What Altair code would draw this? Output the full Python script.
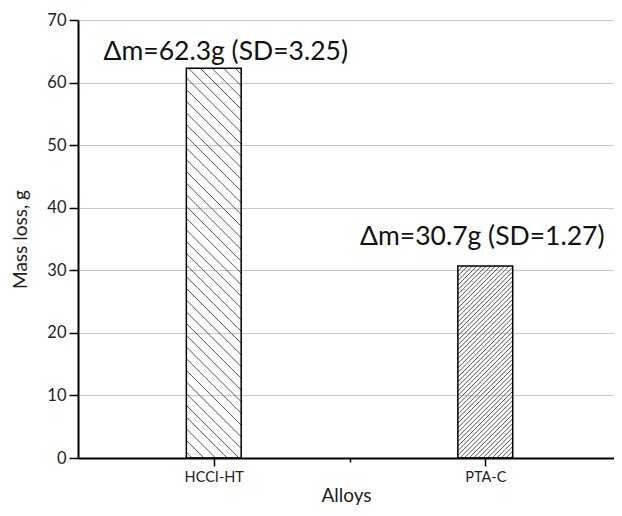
import altair as alt
import pandas as pd

# ---- data ----
alloys = ["HCCI-HT", "PTA-C"]
positions = [1, 2]
mass_loss = [62.3, 30.7]
sd = [3.25, 1.27]

W, H = 536, 438
X_DOM = [0.5, 2.474]
Y_DOM = [0, 70]
PXX = W / (X_DOM[1] - X_DOM[0])
PXY = H / (Y_DOM[1] - Y_DOM[0])
HALF = 0.101  # half bar width in x units

bars = pd.DataFrame({
    "alloy": alloys,
    "pos": positions,
    "mass": mass_loss,
    "sd": sd,
})
bars["x0"] = bars["pos"] - HALF
bars["x1"] = bars["pos"] + HALF
bars["label"] = [f"Δm={m}g (SD={s})" for m, s in zip(mass_loss, sd)]

# hatch segments derived from bar geometry (\\\ for first bar, /// for second)
hatch_rows = []
hatch_style = {"HCCI-HT": ("back", 11.7), "PTA-C": ("fwd", 4.6)}
for _, r in bars.iterrows():
    kind, s = hatch_style[r["alloy"]]
    bw = (r["x1"] - r["x0"]) * PXX
    bh = r["mass"] * PXY
    if kind == "back":
        c = s / 2
        while c < bw + bh:
            u0, u1 = max(0, c - bh), min(bw, c)
            if u1 > u0:
                hatch_rows.append({"alloy": r["alloy"],
                                   "xa": r["x0"] + u0 / PXX, "ya": (c - u0) / PXY,
                                   "xb": r["x0"] + u1 / PXX, "yb": (c - u1) / PXY})
            c += s
    else:
        c = -bw + s / 2
        while c < bh:
            u0, u1 = max(0, -c), min(bw, bh - c)
            if u1 > u0:
                hatch_rows.append({"alloy": r["alloy"],
                                   "xa": r["x0"] + u0 / PXX, "ya": (u0 + c) / PXY,
                                   "xb": r["x0"] + u1 / PXX, "yb": (u1 + c) / PXY})
            c += s
hatch = pd.DataFrame(hatch_rows)

label_expr = " : ".join(
    [f"datum.value == {p} ? '{a}'" for p, a in zip(positions, alloys)]
) + " : ''"

FONT = "Lato"

xscale = alt.Scale(domain=X_DOM, nice=False, zero=False)
yscale = alt.Scale(domain=Y_DOM, nice=False)

x_axis = alt.Axis(
    title="Alloys", values=[1, 1.5, 2], labelExpr=label_expr, grid=False,
    tickSize={"condition": {"test": "datum.value % 1 === 0", "value": 8}, "value": 4},
    tickColor="black", tickWidth=1.5, domainColor="black", domainWidth=2,
    labelFont=FONT, labelFontSize=14.5, labelColor="#222", labelPadding=4,
    titleFont=FONT, titleFontSize=19, titleFontWeight="normal", titleColor="#222",
    titlePadding=3,
)
y_axis = alt.Axis(
    title="Mass loss, g", values=list(range(0, 71, 5)),
    labelExpr="datum.value % 10 === 0 ? datum.label : ''",
    tickSize={"condition": {"test": "datum.value % 10 === 0", "value": 9}, "value": 5},
    tickColor="black", tickWidth=1.5, domainColor="black", domainWidth=2,
    gridColor={"condition": {"test": "datum.value % 10 === 0", "value": "#c8c8c8"}, "value": "#d8d8d8"},
    gridDash={"condition": {"test": "datum.value % 10 === 0", "value": []}, "value": [2, 2]},
    gridWidth=1.2,
    labelFont=FONT, labelFontSize=16.5, labelColor="#222", labelPadding=3,
    titleFont=FONT, titleFontSize=19, titleFontWeight="normal", titleColor="#222",
    titlePadding=16,
)

base = alt.Chart(bars)

bar_layer = base.mark_rect(fill="transparent", stroke="black", strokeWidth=1.5).encode(
    x=alt.X("x0:Q", scale=xscale, axis=x_axis),
    x2="x1:Q",
    y=alt.Y("mass:Q", scale=yscale, axis=y_axis),
    y2=alt.datum(0),
)

hatch_layer = alt.Chart(hatch).mark_rule(color="#555", strokeWidth=1).encode(
    x=alt.X("xa:Q", scale=xscale),
    x2="xb:Q",
    y=alt.Y("ya:Q", scale=yscale),
    y2="yb:Q",
)

text_style = dict(font=FONT, fontSize=26.5, color="#111", align="center", baseline="alphabetic")
t1 = base.transform_filter(alt.datum.alloy == alloys[0]).mark_text(dx=12, dy=-8, **text_style).encode(
    x=alt.X("pos:Q", scale=xscale), y=alt.Y("mass:Q", scale=yscale), text="label:N")
t2 = base.transform_filter(alt.datum.alloy == alloys[1]).mark_text(dx=-3, dy=-21, **text_style).encode(
    x=alt.X("pos:Q", scale=xscale), y=alt.Y("mass:Q", scale=yscale), text="label:N")

chart = alt.layer(hatch_layer, bar_layer, t1, t2).properties(
    width=W, height=H,
    autosize=alt.AutoSizeParams(type="none"),
    padding={"left": 70, "top": 12, "right": 0, "bottom": 50},
).configure_view(stroke="#333", strokeWidth=1.5).configure(background="white")

chart.save("out.html", embed_options={"renderer": "svg", "actions": False})
